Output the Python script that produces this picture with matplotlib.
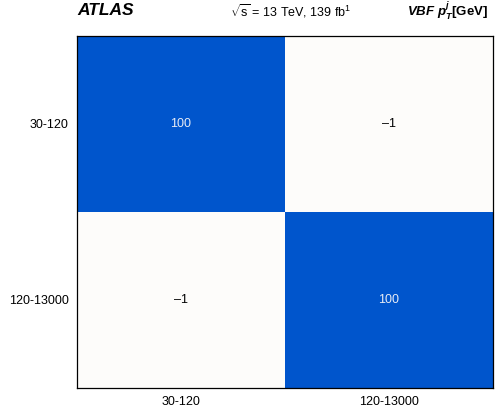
import numpy as np
import matplotlib
matplotlib.use('Agg')
import matplotlib.pyplot as plt
from matplotlib.colors import LinearSegmentedColormap

plt.rcParams['font.family'] = ['Liberation Sans', 'DejaVu Sans']
plt.rcParams['mathtext.fontset'] = 'custom'
plt.rcParams['mathtext.rm'] = 'Liberation Sans'
plt.rcParams['mathtext.it'] = 'Liberation Sans:italic:bold'
plt.rcParams['mathtext.bf'] = 'Liberation Sans:bold'

bins = ['30-120', '120-13000']
corr = np.array([[100, -1],
                 [-1, 100]])

fig = plt.figure(figsize=(4.96, 4.18), dpi=100)
ax = fig.add_axes([0.155, 0.072, 0.839, 0.842])

cmap = LinearSegmentedColormap.from_list('wb', ['#fdfcfa', '#0055cc'])
ax.imshow(corr, cmap=cmap, vmin=-1, vmax=100, aspect='auto')

for i in range(len(bins)):
    for j in range(len(bins)):
        v = corr[i, j]
        col = '#e8ecf5' if v > 50 else 'black'
        lab = str(v).replace('-', '\u2013')
        ax.text(j, i, lab, ha='center', va='center', color=col, fontsize=9)

ax.set_xticks(range(len(bins)))
ax.set_xticklabels(bins, fontsize=9)
ax.set_yticks(range(len(bins)))
ax.set_yticklabels(bins, fontsize=9)
ax.tick_params(length=0, pad=6)
for s in ax.spines.values():
    s.set_linewidth(0.9)

fig.text(0.155, 0.975, 'ATLAS', fontsize=12.5, fontweight='bold', fontstyle='italic', va='center')
fig.text(0.464, 0.973, r'$\sqrt{\mathrm{s}}$ = 13 TeV, 139 fb$^{\mathrm{1}}$', fontsize=9, va='center')
fig.text(0.82, 0.973, r'VBF $p_{T}^{j}$$\mathbf{[GeV]}$', fontsize=9.5, fontweight='bold', fontstyle='italic', va='center')

fig.savefig('out.png', dpi=100)
